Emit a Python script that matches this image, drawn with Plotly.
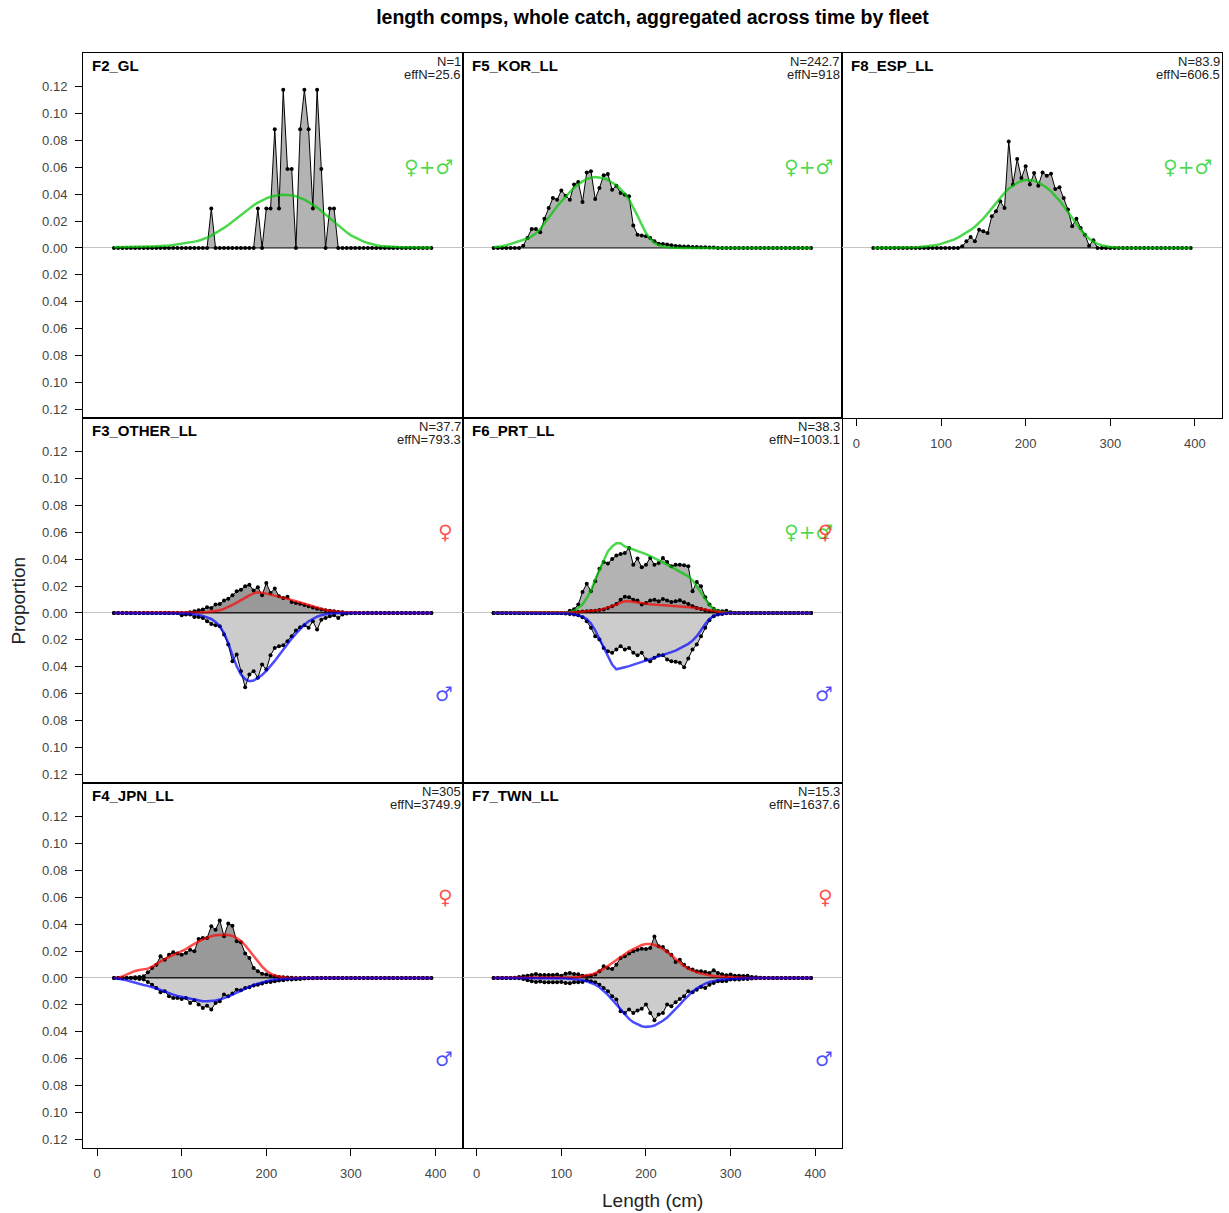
import plotly.graph_objects as go
from plotly.subplots import make_subplots

# length bins (cm)
BINS = list(range(20, 400, 5))


def pad(first_cm, vals):
    out = [0.0] * len(BINS)
    i = BINS.index(first_cm)
    out[i:i + len(vals)] = vals
    return out


# ---- F2_GL (sexes combined) ----
F2_OBS = pad(135, [0.0294, 0, 0, 0, 0, 0, 0, 0, 0, 0, 0, 0.0294, 0, 0.0294, 0.0294,
                   0.0882, 0.0294, 0.1176, 0.0588, 0.0588, 0, 0.0882, 0.1176, 0.0882,
                   0.0294, 0.1176, 0.0588, 0, 0.0294, 0.0294])
F2_EXP = [0.0005, 0.0005, 0.0006, 0.0006, 0.0007, 0.0007, 0.0008, 0.0009, 0.001, 0.0011,
          0.0012, 0.0014, 0.0017, 0.0019, 0.0022, 0.0026, 0.003, 0.0035, 0.004, 0.0047,
          0.0054, 0.0064, 0.0077, 0.0092, 0.0109, 0.0129, 0.0149, 0.0171, 0.0196, 0.022,
          0.0248, 0.0272, 0.0295, 0.0317, 0.0337, 0.0354, 0.0369, 0.0381, 0.0389, 0.0394,
          0.0396, 0.0396, 0.0391, 0.0384, 0.0374, 0.0359, 0.0342, 0.0322, 0.03, 0.0275,
          0.0248, 0.022, 0.0193, 0.0166, 0.0141, 0.0116, 0.0094, 0.0077, 0.006, 0.0047,
          0.0037, 0.0027, 0.002, 0.0015, 0.0012, 0.001, 0.0008, 0.0007, 0.0006, 0.0005,
          0.0004, 0.0003, 0.0003, 0.0002, 0.0002, 0.0002]

# ---- F5_KOR_LL (sexes combined) ----
F5_OBS = pad(55, [0.0017, 0.0074, 0.0141, 0.0141, 0.0116, 0.0218, 0.0297, 0.0371, 0.0359,
                  0.0428, 0.0389, 0.0359, 0.0471, 0.049, 0.0342, 0.0562, 0.057, 0.0364,
                  0.0446, 0.054, 0.055, 0.0433, 0.0463, 0.0409, 0.0396, 0.0384, 0.0166,
                  0.0099, 0.0092, 0.0087, 0.0074, 0.005, 0.0032, 0.003, 0.0025, 0.002,
                  0.0015, 0.0012, 0.001, 0.001, 0.0007, 0.0007, 0.0005, 0.0005, 0.0004,
                  0.0003])
F5_EXP = pad(20, [0.0005, 0.0007, 0.0012, 0.002, 0.003, 0.004, 0.005, 0.006, 0.007, 0.0087,
                  0.0109, 0.0141, 0.0181, 0.0223, 0.0267, 0.031, 0.0347, 0.0384, 0.0416,
                  0.0448, 0.0475, 0.0495, 0.0513, 0.0523, 0.0527, 0.0525, 0.0518, 0.0505,
                  0.0488, 0.0466, 0.0438, 0.0404, 0.0359, 0.0305, 0.024, 0.0173, 0.0111,
                  0.0067, 0.0037, 0.002, 0.001, 0.0005, 0.0002])

# ---- F8_ESP_LL (sexes combined) ----
F8_OBS = pad(125, [0.0012, 0.005, 0.0082, 0.005, 0.0136, 0.0124, 0.0111, 0.0235, 0.0272,
                   0.0347, 0.0297, 0.0792, 0.0471, 0.0661, 0.052, 0.0607, 0.0471, 0.0557,
                   0.0463, 0.0562, 0.0537, 0.0552, 0.0438, 0.0451, 0.0371, 0.0285, 0.0161,
                   0.0218, 0.0149, 0.0099, 0.0017, 0.0057])
F8_EXP = pad(70, [0.0005, 0.0007, 0.001, 0.0012, 0.0017, 0.0022, 0.003, 0.004, 0.005, 0.0062,
                  0.0077, 0.0094, 0.0111, 0.0134, 0.0158, 0.0186, 0.0218, 0.0255, 0.0295,
                  0.0334, 0.0371, 0.0409, 0.0441, 0.0466, 0.0485, 0.0498, 0.0505, 0.0505,
                  0.05, 0.0488, 0.0471, 0.0448, 0.0421, 0.0389, 0.0352, 0.031, 0.0265,
                  0.022, 0.0178, 0.0136, 0.0099, 0.0069, 0.0047, 0.003, 0.002, 0.0012,
                  0.0007, 0.0005])

# ---- F3_OTHER_LL ----
F3_FEM_OBS = pad(110, [0.0005, 0.0012, 0.002, 0.0025, 0.0042, 0.0037, 0.0062, 0.0067, 0.0092,
                       0.0106, 0.0131, 0.0161, 0.0173, 0.0198, 0.021, 0.0166, 0.0191, 0.0131,
                       0.0223, 0.0149, 0.0181, 0.0124, 0.0111, 0.0121, 0.0082, 0.0074, 0.0069,
                       0.0059, 0.005, 0.004, 0.0032, 0.0025, 0.002, 0.0017, 0.0012, 0.0007,
                       0.0005])
F3_FEM_EXP = pad(125, [0.0005, 0.0007, 0.001, 0.0012, 0.002, 0.003, 0.0042, 0.0059, 0.0077,
                       0.0097, 0.0114, 0.0131, 0.0146, 0.0154, 0.0151, 0.0144, 0.0136, 0.0129,
                       0.0121, 0.0114, 0.0106, 0.0097, 0.0087, 0.0077, 0.0067, 0.0057, 0.0047,
                       0.0037, 0.003, 0.0022, 0.0017, 0.0012, 0.001, 0.0007, 0.0005, 0.0003])
F3_MAL_OBS = pad(100, [0.0017, 0.0012, 0.0012, 0.003, 0.003, 0.0037, 0.0062, 0.0082, 0.0092,
                       0.0099, 0.0161, 0.0235, 0.0359, 0.031, 0.0433, 0.0552, 0.0458, 0.0433,
                       0.0483, 0.0384, 0.0421, 0.0315, 0.026, 0.0248, 0.024, 0.021, 0.0173,
                       0.0131, 0.0106, 0.0092, 0.0111, 0.0062, 0.0124, 0.005, 0.0037, 0.0025,
                       0.0017, 0.0037, 0.0012, 0.0005])
F3_MAL_EXP = pad(100, [0.0002, 0.0005, 0.0007, 0.001, 0.0015, 0.0022, 0.0032, 0.0045, 0.0067,
                       0.0099, 0.0149, 0.0223, 0.0315, 0.0396, 0.0458, 0.0493, 0.0508, 0.0503,
                       0.0483, 0.0461, 0.0431, 0.0396, 0.0357, 0.0315, 0.0272, 0.023, 0.0191,
                       0.0154, 0.0119, 0.0087, 0.0062, 0.0042, 0.0027, 0.0017, 0.001, 0.0005,
                       0.0002])

# ---- F6_PRT_LL ----
F6_OBS = pad(110, [0.0017, 0.0027, 0.0062, 0.0156, 0.0218, 0.0161, 0.0235, 0.0329, 0.0379,
                   0.0367, 0.0401, 0.0428, 0.0438, 0.0446, 0.0483, 0.0359, 0.0404, 0.0339,
                   0.0359, 0.0409, 0.0359, 0.0371, 0.0409, 0.0379, 0.0347, 0.0359, 0.0359,
                   0.0354, 0.0347, 0.0161, 0.023, 0.0198, 0.0116, 0.0062, 0.0032, 0.0017,
                   0.0012, 0.0017, 0.0005])
F6_EXP = pad(110, [0.0005, 0.0017, 0.0037, 0.0062, 0.0111, 0.0166, 0.0248, 0.0322, 0.0396,
                   0.0458, 0.0495, 0.0518, 0.0518, 0.0495, 0.0483, 0.0473, 0.0463, 0.0451,
                   0.0438, 0.0423, 0.0409, 0.0394, 0.0376, 0.0359, 0.0342, 0.0322, 0.0305,
                   0.029, 0.0272, 0.0243, 0.0198, 0.0149, 0.0099, 0.0057, 0.003, 0.0015,
                   0.0007, 0.0002])
F6_FEM_OBS = pad(110, [0.0005, 0.0007, 0.0007, 0.001, 0.0012, 0.0015, 0.0017, 0.0022, 0.0025,
                       0.0037, 0.005, 0.0067, 0.0099, 0.0121, 0.0116, 0.0099, 0.0092, 0.0062,
                       0.0074, 0.0092, 0.0099, 0.0087, 0.0104, 0.0092, 0.0082, 0.0087, 0.0094,
                       0.0079, 0.0067, 0.005, 0.0037, 0.003, 0.002, 0.0012, 0.0007, 0.0005])
F6_FEM_EXP = pad(110, [0.0002, 0.0005, 0.0007, 0.001, 0.001, 0.0012, 0.0017, 0.0022, 0.003,
                       0.004, 0.005, 0.0062, 0.0077, 0.0087, 0.0087, 0.0082, 0.0074, 0.0069,
                       0.0067, 0.0064, 0.0062, 0.006, 0.0057, 0.0054, 0.0052, 0.005, 0.0047,
                       0.0045, 0.0042, 0.004, 0.0035, 0.003, 0.0022, 0.0015, 0.001, 0.0005,
                       0.0002])
F6_MAL_OBS = pad(105, [0.0005, 0.0007, 0.0012, 0.0017, 0.0032, 0.0062, 0.0111, 0.0173, 0.0198,
                       0.026, 0.0285, 0.0297, 0.0272, 0.0248, 0.0272, 0.026, 0.0297, 0.0315,
                       0.0297, 0.0347, 0.0359, 0.0334, 0.0315, 0.0315, 0.0347, 0.0359, 0.0364,
                       0.0371, 0.0404, 0.0339, 0.0272, 0.0235, 0.0173, 0.0111, 0.0054, 0.0025,
                       0.0012, 0.0007, 0.0002])
F6_MAL_EXP = pad(105, [0.0002, 0.0005, 0.001, 0.0017, 0.0027, 0.0045, 0.0079, 0.0129, 0.0191,
                       0.026, 0.0324, 0.0384, 0.0419, 0.0414, 0.0404, 0.0396, 0.0386, 0.0376,
                       0.0367, 0.0357, 0.0347, 0.0337, 0.0327, 0.0317, 0.0305, 0.0292, 0.028,
                       0.0265, 0.025, 0.023, 0.0206, 0.0173, 0.0129, 0.0082, 0.0045, 0.0022,
                       0.0012, 0.0005, 0.0002])

# ---- F4_JPN_LL ----
F4_FEM_OBS = pad(40, [0.0002, 0.0005, 0.0007, 0.0012, 0.0042, 0.0074, 0.0099, 0.0161, 0.0136,
                      0.0173, 0.0191, 0.0181, 0.0173, 0.0186, 0.021, 0.0198, 0.029, 0.0297,
                      0.0297, 0.0384, 0.0359, 0.0428, 0.031, 0.0404, 0.0389, 0.0272, 0.0265,
                      0.0181, 0.0149, 0.0074, 0.005, 0.0032, 0.0025, 0.0017, 0.0012, 0.0007,
                      0.0005, 0.0003, 0.0002])
F4_FEM_EXP = pad(25, [0.0002, 0.0012, 0.0025, 0.004, 0.0052, 0.0059, 0.0062, 0.0069, 0.0084,
                      0.0104, 0.0124, 0.0141, 0.0156, 0.0171, 0.0186, 0.0198, 0.0215, 0.0235,
                      0.0255, 0.0272, 0.0287, 0.03, 0.031, 0.0317, 0.0322, 0.0322, 0.0319,
                      0.0312, 0.0297, 0.0275, 0.0243, 0.0203, 0.0161, 0.0119, 0.0084, 0.0054,
                      0.0032, 0.0017, 0.001, 0.0005, 0.0002])
F4_MAL_OBS = pad(45, [0.0005, 0.0007, 0.0012, 0.003, 0.005, 0.0074, 0.0106, 0.0099, 0.0136,
                      0.0149, 0.0149, 0.0156, 0.0149, 0.0186, 0.0166, 0.0198, 0.0223, 0.0206,
                      0.0235, 0.0186, 0.0173, 0.0124, 0.0136, 0.0116, 0.0087, 0.0092, 0.0074,
                      0.0069, 0.0057, 0.005, 0.0042, 0.0032, 0.003, 0.0025, 0.002, 0.0017,
                      0.0012, 0.0012, 0.001, 0.0007, 0.0005, 0.0003, 0.0002])
F4_MAL_EXP = pad(25, [0.0005, 0.001, 0.0017, 0.0027, 0.0037, 0.0045, 0.0052, 0.0059, 0.0067,
                      0.0079, 0.0089, 0.0102, 0.0114, 0.0124, 0.0134, 0.0141, 0.0149, 0.0156,
                      0.0163, 0.0168, 0.0173, 0.0173, 0.0173, 0.0168, 0.0161, 0.0151, 0.0139,
                      0.0124, 0.0109, 0.0094, 0.0079, 0.0064, 0.0052, 0.0042, 0.0032, 0.0025,
                      0.0017, 0.0012, 0.001, 0.0007, 0.0005, 0.0002])

# ---- F7_TWN_LL ----
F7_FEM_OBS = pad(45, [0.0002, 0.0007, 0.0012, 0.0017, 0.0022, 0.003, 0.0022, 0.0022, 0.0022,
                      0.0022, 0.0025, 0.0017, 0.0032, 0.0037, 0.003, 0.0027, 0.0017, 0.0012,
                      0.0017, 0.0025, 0.005, 0.0087, 0.0074, 0.0067, 0.0099, 0.0149, 0.0161,
                      0.0181, 0.0198, 0.021, 0.0218, 0.0215, 0.0223, 0.0309, 0.0235, 0.023,
                      0.0198, 0.0173, 0.0119, 0.0136, 0.0099, 0.0074, 0.0062, 0.005, 0.005,
                      0.0045, 0.0037, 0.0057, 0.0037, 0.0027, 0.002, 0.0025, 0.0017, 0.0017,
                      0.0015, 0.0017, 0.0007, 0.0005, 0.0002])
F7_FEM_EXP = pad(95, [0.0002, 0.0002, 0.0002, 0.0003, 0.0005, 0.0007, 0.0012, 0.0017, 0.0025,
                      0.0035, 0.005, 0.0067, 0.0089, 0.0111, 0.0134, 0.0156, 0.0178, 0.0198,
                      0.0215, 0.0233, 0.0245, 0.0253, 0.0253, 0.0245, 0.0233, 0.0215, 0.0193,
                      0.0168, 0.0141, 0.0114, 0.0089, 0.0069, 0.0054, 0.0042, 0.0032, 0.0025,
                      0.002, 0.0015, 0.0012, 0.001, 0.0007, 0.0005, 0.0002])
F7_MAL_OBS = pad(50, [0.0002, 0.0007, 0.0017, 0.0025, 0.003, 0.0027, 0.0032, 0.0032, 0.0032,
                      0.0032, 0.003, 0.0037, 0.004, 0.0032, 0.0032, 0.003, 0.0017, 0.0025,
                      0.0032, 0.005, 0.0074, 0.0099, 0.0136, 0.0161, 0.0248, 0.026, 0.0235,
                      0.026, 0.0243, 0.023, 0.0198, 0.026, 0.0314, 0.0272, 0.026, 0.0198,
                      0.021, 0.018, 0.0156, 0.0136, 0.0099, 0.0106, 0.0087, 0.0067, 0.0074,
                      0.005, 0.0037, 0.0025, 0.0025, 0.0022, 0.0012, 0.0012, 0.0012, 0.0007,
                      0.0007, 0.0005, 0.0002])
F7_MAL_EXP = pad(90, [0.0002, 0.0002, 0.0005, 0.0005, 0.0007, 0.001, 0.0012, 0.0017, 0.0025,
                      0.0035, 0.005, 0.0069, 0.0094, 0.0126, 0.0161, 0.0198, 0.0235, 0.0272,
                      0.0305, 0.0329, 0.0347, 0.0359, 0.0364, 0.0362, 0.0354, 0.0339, 0.0319,
                      0.0295, 0.0265, 0.0233, 0.0198, 0.0163, 0.0131, 0.0102, 0.0077, 0.0057,
                      0.0042, 0.003, 0.0022, 0.0017, 0.0012, 0.001, 0.0007, 0.0005, 0.0002])

# panel name, grid cell, N, effN, (sex, observed, expected) groups
PANELS = [
    ("F2_GL", 1, 1, "1", "25.6", [("both", F2_OBS, F2_EXP)]),
    ("F3_OTHER_LL", 2, 1, "37.7", "793.3",
     [("fem", F3_FEM_OBS, F3_FEM_EXP), ("mal", F3_MAL_OBS, F3_MAL_EXP)]),
    ("F4_JPN_LL", 3, 1, "305", "3749.9",
     [("fem", F4_FEM_OBS, F4_FEM_EXP), ("mal", F4_MAL_OBS, F4_MAL_EXP)]),
    ("F5_KOR_LL", 1, 2, "242.7", "918", [("both", F5_OBS, F5_EXP)]),
    ("F6_PRT_LL", 2, 2, "38.3", "1003.1",
     [("both", F6_OBS, F6_EXP), ("fem", F6_FEM_OBS, F6_FEM_EXP),
      ("mal", F6_MAL_OBS, F6_MAL_EXP)]),
    ("F7_TWN_LL", 3, 2, "15.3", "1637.6",
     [("fem", F7_FEM_OBS, F7_FEM_EXP), ("mal", F7_MAL_OBS, F7_MAL_EXP)]),
    ("F8_ESP_LL", 1, 3, "83.9", "606.5", [("both", F8_OBS, F8_EXP)]),
]

Y_TICKS = [-0.12, -0.10, -0.08, -0.06, -0.04, -0.02, 0.0, 0.02, 0.04, 0.06, 0.08, 0.10, 0.12]
X_TICKS = [0, 100, 200, 300, 400]

LINE_COL = {"both": "rgba(0,200,0,0.7)", "fem": "rgba(255,0,0,0.7)", "mal": "rgba(0,0,255,0.7)"}
FILL_COL = {"both": "#b3b3b3", "fem": "#999999", "mal": "#cccccc"}
SIGN = {"both": 1, "fem": 1, "mal": -1}
SYMBOL = {"both": ("♀+♂", 0.06), "fem": ("♀", 0.06), "mal": ("♂", -0.06)}

FONT = "Liberation Sans, Arial, sans-serif"

fig = make_subplots(rows=3, cols=3, horizontal_spacing=0, vertical_spacing=0)


def axref(row, col):
    n = (row - 1) * 3 + col
    return "" if n == 1 else str(n)


for name, row, col, n_txt, effn_txt, groups in PANELS:
    ax = axref(row, col)
    for sex, obs, exp in groups:
        s = SIGN[sex]
        y_obs = [s * v for v in obs]
        # filled polygon closed along the zero line
        fig.add_trace(go.Scatter(
            x=BINS + [BINS[-1], BINS[0]], y=y_obs + [0, 0], mode="lines",
            fill="toself", fillcolor=FILL_COL[sex],
            line=dict(color="black", width=1), hoverinfo="skip", showlegend=False),
            row=row, col=col)
        fig.add_trace(go.Scatter(
            x=BINS, y=y_obs, mode="markers",
            marker=dict(color="black", size=4), showlegend=False),
            row=row, col=col)
    for sex, obs, exp in groups:
        s = SIGN[sex]
        fig.add_trace(go.Scatter(
            x=BINS, y=[s * v for v in exp], mode="lines",
            line=dict(color=LINE_COL[sex], width=2.5), showlegend=False),
            row=row, col=col)
        sym, sy = SYMBOL[sex]
        fig.add_annotation(x=423, y=sy, xref="x" + ax, yref="y" + ax, text=sym,
                           showarrow=False, xanchor="right", yanchor="middle",
                           font=dict(family="DejaVu Sans", size=20, color=LINE_COL[sex]))

    fig.add_annotation(x=0.018, y=1, xref="x" + ax + " domain", yref="y" + ax + " domain",
                       text="<b>" + name + "</b>", showarrow=False, xanchor="left",
                       yanchor="top", yshift=-2, font=dict(family=FONT, size=15, color="black"))
    fig.add_annotation(x=1, y=1, xref="x" + ax + " domain", yref="y" + ax + " domain",
                       text="N=" + n_txt, showarrow=False, xanchor="right", yanchor="top",
                       yshift=1, font=dict(family=FONT, size=13, color="#222"))
    fig.add_annotation(x=1, y=1, xref="x" + ax + " domain", yref="y" + ax + " domain",
                       text="effN=" + effn_txt, showarrow=False, xanchor="right",
                       yanchor="top", yshift=-12, font=dict(family=FONT, size=13, color="#222"))

used = {(r, c) for _, r, c, _, _, _ in PANELS}
for r in range(1, 4):
    for c in range(1, 4):
        if (r, c) not in used:
            fig.update_xaxes(visible=False, row=r, col=c)
            fig.update_yaxes(visible=False, row=r, col=c)
            continue
        bottom = (r + 1, c) not in used
        fig.update_xaxes(
            range=[-16.6, 432], showgrid=False, zeroline=False,
            showline=True, mirror=True, linecolor="black", linewidth=1,
            tickvals=X_TICKS, ticks="outside" if bottom else "", ticklen=7,
            tickcolor="black", showticklabels=bottom, ticklabelstandoff=6,
            tickfont=dict(family=FONT, size=13, color="#444"),
            row=r, col=c)
        fig.update_yaxes(
            range=[-0.1265, 0.145], showgrid=False,
            zeroline=True, zerolinecolor="#c4c4c4", zerolinewidth=1,
            showline=True, mirror=True, linecolor="black", linewidth=1,
            tickvals=Y_TICKS, ticktext=["%.2f" % abs(v) for v in Y_TICKS],
            ticks="outside" if c == 1 else "", ticklen=7, tickcolor="black",
            showticklabels=(c == 1), ticklabelstandoff=5,
            tickfont=dict(family=FONT, size=13, color="#444"),
            row=r, col=c)

fig.add_annotation(x=-0.057, y=0.5, xref="paper", yref="paper", text="Proportion",
                   textangle=-90, showarrow=False, xanchor="center", yanchor="middle",
                   font=dict(family=FONT, size=19, color="#222"))
fig.add_annotation(x=0.5, y=-0.0475, xref="paper", yref="paper", text="Length (cm)",
                   showarrow=False, xanchor="center", yanchor="middle",
                   font=dict(family=FONT, size=19, color="#222"))

fig.update_layout(
    title=dict(text="<b>length comps, whole catch, aggregated across time by fleet</b>",
               x=0.5, xref="paper", xanchor="center", y=1 - 17 / 1213, yref="container",
               yanchor="middle", font=dict(family=FONT, size=19.5, color="black")),
    width=1229, height=1213,
    margin=dict(l=83, r=7, t=53, b=65),
    plot_bgcolor="white", paper_bgcolor="white",
    hovermode=False,
)

fig.write_html("out.html", config={"displayModeBar": False},
               post_script="document.body.style.margin='0';")
